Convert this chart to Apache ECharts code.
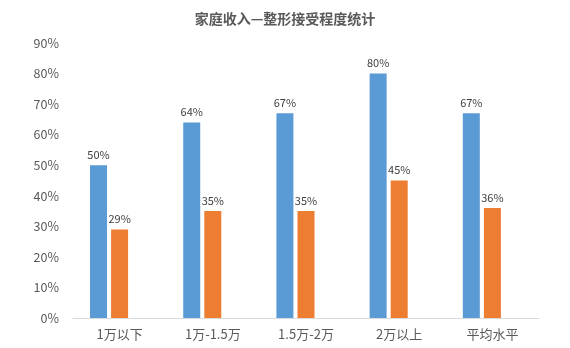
<!DOCTYPE html>
<html><head><meta charset="utf-8">
<script src="https://cdn.jsdelivr.net/npm/echarts@6/dist/echarts.min.js"></script>
<style>html,body{margin:0;padding:0;background:#fff}#c{width:570px;height:348px}</style>
</head><body><div id="c"></div>
<script>
var categories = ['1万以下', '1万-1.5万', '1.5万-2万', '2万以上', '平均水平'];
var seriesA = [50, 64, 67, 80, 67];
var seriesB = [29, 35, 35, 45, 36];
var emptySlot = [null, null, null, null, null];
var yTicks = {min: 0, max: 90, interval: 10};
var font = '"Microsoft YaHei","Noto Sans CJK SC",sans-serif';
var chart = echarts.init(document.getElementById('c'), null, {renderer: 'canvas'});
var lbl = {show: true, position: 'top', formatter: '{c}%', color: '#404040', fontSize: 11, fontFamily: font, distance: 5};
chart.setOption({
  animation: false,
  title: {text: '家庭收入—整形接受程度统计', left: 'center', top: 7,
    textStyle: {fontSize: 14, fontWeight: 'bold', color: '#595959', fontFamily: font}},
  grid: {left: 73, right: 31, top: 43, bottom: 30},
  xAxis: {type: 'category', data: categories,
    axisLine: {lineStyle: {color: '#d9d9d9'}}, axisTick: {show: false},
    axisLabel: {color: '#595959', fontSize: 13, fontFamily: font, margin: 10}},
  yAxis: {type: 'value', min: yTicks.min, max: yTicks.max, interval: yTicks.interval,
    axisLabel: {formatter: '{value}%', color: '#595959', fontSize: 12.5, fontFamily: font, margin: 14},
    splitLine: {show: false}, axisLine: {show: false}, axisTick: {show: false}},
  series: [
    {type: 'bar', data: seriesA, barWidth: 17, barGap: '24%', itemStyle: {color: '#5B9BD5'}, label: lbl},
    {type: 'bar', data: seriesB, barWidth: 17, barGap: '24%', itemStyle: {color: '#ED7D31'}, label: lbl},
    {type: 'bar', data: emptySlot, barWidth: 17, barGap: '24%', itemStyle: {color: '#A5A5A5'}}
  ]
});
</script></body></html>
